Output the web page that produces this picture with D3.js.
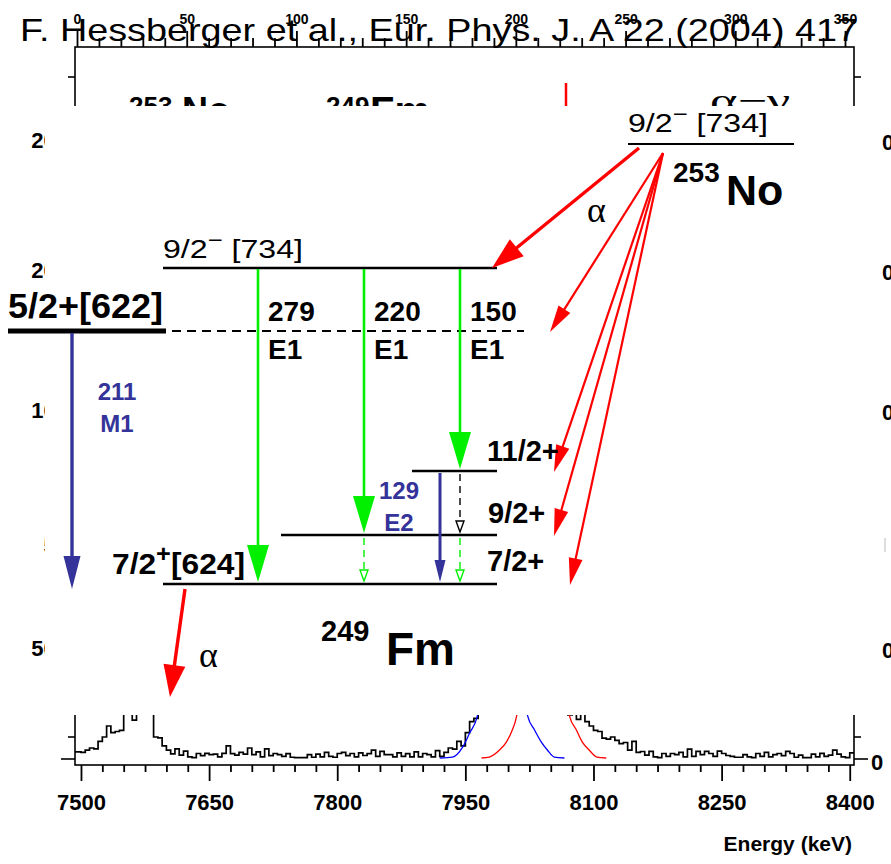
<!DOCTYPE html>
<html>
<head>
<meta charset="utf-8">
<script src="https://cdn.jsdelivr.net/npm/d3@7"></script>
<style>
  body { margin: 0; background: #fff; }
  svg { display: block; }
</style>
</head>
<body>
<svg id="chart" width="891" height="864"></svg>
<script>
// ---------------- data ----------------
const citation = "F. Hessberger et al., Eur. Phys. J. A 22 (2004) 417";

// alpha spectrum (counts per 5 keV bin, first bin starts at 7490 keV)
const binStart = 7490;
const binWidth = 5;
const spectrumCounts = [
  3.2, 3.2, 3.0, 4.0, 5.0, 4.6, 8.0, 10.0, 15.0, 12.0,
  12.5, 13.0, 26, 32, 17.7, 38, 30, 45, 24, 10.0,
  9.6, 6.0, 4.0, 2.3, 4.6, 1.8, 3.6, 1.0, 0.6, 2.5,
  1.5, 2.6, 2.0, 2.2, 1.0, 2.6, 6.0, 2.4, 1.8, 3.0,
  2.2, 5.0, 2.0, 3.2, 1.0, 4.6, 1.5, 2.5, 2.0, 1.2,
  2.4, 0.8, 0.6, 0.6, 0.6, 2.0, 0.8, 2.2, 1.0, 3.0,
  1.2, 0.8, 2.5, 3.0, 1.5, 2.5, 1.0, 2.8, 1.6, 2.4,
  4.0, 1.2, 3.5, 2.0, 2.0, 1.0, 2.8, 1.2, 2.4, 1.0,
  3.2, 1.0, 2.5, 2.0, 1.0, 3.8, 1.2, 3.0, 5.0, 4.5,
  8.0, 6.0, 12.0, 17.0, 18.5, 30, 60, 120, 220, 300,
  340, 320, 280, 300, 260, 180, 120, 90, 70, 60,
  55, 50, 45, 40, 35, 28, 20, 22, 18, 21,
  17, 15, 13, 12.5, 9.5, 9.0, 10.0, 8.5, 7.0, 7.5,
  4.0, 8.0, 3.0, 3.4, 1.8, 3.5, 1.0, 0.6, 2.5, 1.2,
  2.5, 2.0, 3.0, 1.0, 4.5, 1.2, 3.5, 2.0, 3.5, 2.5,
  1.2, 3.6, 2.5, 1.6, 1.2, 0.8, 0.8, 2.0, 1.0, 0.6,
  2.5, 1.2, 3.0, 1.0, 2.0, 2.5, 1.5, 3.5, 2.5, 0.8,
  1.8, 0.6, 0.6, 2.2, 1.0, 2.6, 1.2, 1.8, 4.0, 2.2,
  1.0, 0.6, 2.8
];

// fitted line shapes [energy keV, counts]
const blueFit = [
  [7920, 0.45], [7935, 0.9], [7947, 5.5], [7955, 11.8], [7964, 19.5],
  [7972, 45], [7993, 160], [8014, 45],
  [8023, 19.5], [8031, 13.2], [8039, 7.7], [8046, 4.1], [8054, 0.9], [8066, 0.45]
];
const redFit = [
  [7969, 0.45], [7978, 0.9], [7990, 4.1], [7998, 7.7], [8004, 12.3], [8010, 19.5],
  [8018, 45], [8041, 160], [8064, 45],
  [8072, 19.5], [8080, 13.2], [8087, 7.7], [8095, 4.1], [8104, 0.9], [8115, 0.45]
];

const energyTicks = [7500, 7650, 7800, 7950, 8100, 8250, 8400];
const channelTicks = [0, 50, 100, 150, 200, 250, 300, 350];
const countTicks = [0, 10, 310];
const sideLabels = ["200", "200", "100", "50", "500"];
const headerLabels = ["253", "No", "249", "Fm", "α−γ"];

// level scheme of 249Fm populated in the alpha decay of 253No (energies in keV)
const levelEnergies = [0, 59, 129, 211, 279];
const parentEnergy = 420; // schematic height of the 253No ground state
const gammaLines = [
  { e: 279, from: 279, type: "E1" },
  { e: 220, from: 279, type: "E1" },
  { e: 150, from: 279, type: "E1" },
  { e: 211, from: 211, type: "M1" },
  { e: 129, from: 129, type: "E2" }
];
const cascadeLines = [
  { from: 129, to: 59 },   // 11/2+ -> 9/2+
  { from: 59, to: 0 },     // 9/2+ -> 7/2+ (below 220)
  { from: 59, to: 0 }      // 9/2+ -> 7/2+ (below 150)
];
const alphaFeeding = [279, 211, 129, 59, 0];

// ---------------- drawing ----------------
const FONT = "'Liberation Sans', Arial, Helvetica, sans-serif";
const SERIF = "'Liberation Serif', 'Times New Roman', serif";
const RED = "#ff0000", GREEN = "#00f000", BLUE = "#333399";

const svg = d3.select("#chart");

const x = d3.scaleLinear().domain([7493, 8405]).range([75, 854]);
const y = d3.scaleLinear().domain([0, 20]).range([759, 715]);
const ch = d3.scaleLinear().domain([0, 350]).range([77, 845]);

const plot = { left: 75, right: 854, top: 47, bottom: 765 };
const panel = { left: 45, right: 878, top: 106, bottom: 715 };

svg.append("defs").append("clipPath").attr("id", "plotClip")
  .append("rect")
  .attr("x", plot.left).attr("y", panel.top)
  .attr("width", plot.right - plot.left).attr("height", plot.bottom - panel.top);

const base = svg.append("g");

// frame
base.append("rect")
  .attr("x", plot.left).attr("y", plot.top)
  .attr("width", plot.right - plot.left).attr("height", plot.bottom - plot.top)
  .attr("fill", "none").attr("stroke", "#000").attr("stroke-width", 1.6);

// bottom energy axis
function styleAxis(g) {
  g.select(".domain").remove();
  g.selectAll(".tick line").attr("stroke", "#000").attr("stroke-width", 1.8);
}
base.append("g")
  .attr("transform", `translate(0,${plot.bottom})`)
  .call(d3.axisBottom(x).tickValues(d3.range(7500, 8401, 25).filter(v => !energyTicks.includes(v)))
    .tickSize(7).tickFormat(""))
  .call(styleAxis);
base.append("g")
  .attr("transform", `translate(0,${plot.bottom})`)
  .call(d3.axisBottom(x).tickValues(energyTicks).tickSize(16).tickPadding(13).tickFormat(d3.format("d")))
  .call(styleAxis)
  .call(g => g.selectAll("text").attr("font-family", FONT).attr("font-size", 22)
    .attr("font-weight", "bold").attr("fill", "#000"));

base.append("text")
  .attr("x", 852).attr("y", 851)
  .attr("text-anchor", "end")
  .attr("font-family", FONT).attr("font-size", 21).attr("font-weight", "bold")
  .text("Energy (keV)");

// top channel axis
base.append("g")
  .attr("transform", `translate(0,${plot.top})`)
  .call(d3.axisTop(ch).tickValues(d3.range(0, 351, 10).filter(v => !channelTicks.includes(v)))
    .tickSize(9).tickFormat(""))
  .call(styleAxis);
base.append("g")
  .attr("transform", `translate(0,${plot.top})`)
  .call(d3.axisTop(ch).tickValues(channelTicks).tickSize(16).tickPadding(7).tickFormat(d3.format("d")))
  .call(styleAxis)
  .call(g => g.selectAll("text").attr("font-family", FONT).attr("font-size", 14)
    .attr("font-weight", "bold").attr("fill", "#000"));

// count axes (left and right)
countTicks.forEach(v => {
  const len = v === 0 ? 14 : 7;
  base.append("line").attr("x1", plot.left - len).attr("x2", plot.left)
    .attr("y1", y(v)).attr("y2", y(v)).attr("stroke", "#000").attr("stroke-width", 1.6);
  base.append("line").attr("x1", plot.right).attr("x2", plot.right + len)
    .attr("y1", y(v)).attr("y2", y(v)).attr("stroke", "#000").attr("stroke-width", 1.6);
});
base.append("text")
  .attr("x", 871).attr("y", 770)
  .attr("font-family", FONT).attr("font-size", 22).attr("font-weight", "bold")
  .text(d3.format("d")(countTicks[0]));

// tick labels of the outer frame, partly covered by the scheme panel
const sideY = d3.scaleLinear().domain([0, 1, 2, 3, 4]).range([148, 278, 418, 553, 656]);
sideLabels.forEach((s, i) => {
  base.append("text").attr("x", 68).attr("y", sideY(i))
    .attr("text-anchor", "end")
    .attr("font-family", FONT).attr("font-size", 22).attr("font-weight", "bold")
    .text(s);
  if (i !== 3) {
    base.append("text").attr("x", 882).attr("y", sideY(i) + 2)
      .attr("font-family", FONT).attr("font-size", 22).attr("font-weight", "bold")
      .text("0");
  }
});
base.append("line").attr("x1", 885).attr("x2", 885).attr("y1", 538).attr("y2", 552)
  .attr("stroke", "#bbb").attr("stroke-width", 1);

// spectrum histogram
const histPts = spectrumCounts.map((c, i) => [binStart + i * binWidth, c]);
histPts.push([binStart + spectrumCounts.length * binWidth, spectrumCounts[spectrumCounts.length - 1]]);
const specG = base.append("g").attr("clip-path", "url(#plotClip)");
specG.append("path")
  .datum(histPts)
  .attr("d", d3.line().x(d => x(d[0])).y(d => y(d[1])).curve(d3.curveStepAfter))
  .attr("fill", "none").attr("stroke", "#000").attr("stroke-width", 1.7);

const fitLine = d3.line().x(d => x(d[0])).y(d => y(d[1])).curve(d3.curveMonotoneX);
specG.append("path").datum(blueFit).attr("d", fitLine)
  .attr("fill", "none").attr("stroke", "#0000ff").attr("stroke-width", 1.3);
specG.append("path").datum(redFit).attr("d", fitLine)
  .attr("fill", "none").attr("stroke", RED).attr("stroke-width", 1.3);

// header inside the spectrum frame
base.append("text").attr("x", 129).attr("y", 115)
  .attr("font-family", FONT).attr("font-size", 26).attr("font-weight", "bold").text(headerLabels[0]);
base.append("text").attr("x", 182).attr("y", 123)
  .attr("font-family", FONT).attr("font-size", 36).attr("font-weight", "bold").text(headerLabels[1]);
base.append("text").attr("x", 326).attr("y", 115)
  .attr("font-family", FONT).attr("font-size", 26).attr("font-weight", "bold").text(headerLabels[2]);
base.append("text").attr("x", 370).attr("y", 125)
  .attr("font-family", FONT).attr("font-size", 40).attr("font-weight", "bold").text(headerLabels[3]);
base.append("line").attr("x1", 566).attr("x2", 566).attr("y1", 83).attr("y2", 110)
  .attr("stroke", RED).attr("stroke-width", 2.5);
base.append("text").attr("x", 710).attr("y", 112)
  .attr("font-family", SERIF).attr("font-size", 34)
  .attr("textLength", 80).attr("lengthAdjust", "spacingAndGlyphs")
  .text(headerLabels[4]);

// citation across the top
base.append("text")
  .attr("x", 20).attr("y", 41)
  .attr("font-family", FONT).attr("font-size", 32)
  .attr("textLength", 838).attr("lengthAdjust", "spacingAndGlyphs")
  .text(citation);

// white panel carrying the level scheme
svg.append("rect")
  .attr("x", panel.left).attr("y", panel.top)
  .attr("width", panel.right - panel.left).attr("height", panel.bottom - panel.top)
  .attr("fill", "#fff");

// ---------------- level scheme ----------------
const ly = d3.scaleLinear()
  .domain([0, 59, 129, 211, 279, parentEnergy])
  .range([584, 535, 471, 331, 268, 144]);

const scheme = svg.append("g");

function arrow(g, x1, y1, x2, y2, o) {
  const dx = x2 - x1, dy = y2 - y1, L = Math.hypot(dx, dy);
  const ux = dx / L, uy = dy / L, nx = -uy, ny = ux;
  const bx = x2 - ux * o.headLen, by = y2 - uy * o.headLen;
  g.append("line")
    .attr("x1", x1).attr("y1", y1)
    .attr("x2", o.open ? x2 - ux * 2 : bx + ux * 2).attr("y2", o.open ? y2 - uy * 2 : by + uy * 2)
    .attr("stroke", o.color).attr("stroke-width", o.width)
    .attr("stroke-dasharray", o.dash || null);
  const hw = o.headW / 2;
  g.append("path")
    .attr("d", `M${x2},${y2}L${bx + nx * hw},${by + ny * hw}L${bx - nx * hw},${by - ny * hw}Z`)
    .attr("fill", o.open ? "#fff" : o.color)
    .attr("stroke", o.open ? o.color : "none")
    .attr("stroke-width", o.open ? 1.4 : 0);
}

function label(g, x0, y0, parts, o) {
  const t = g.append("text").attr("x", x0).attr("y", y0)
    .attr("font-family", o.family || FONT).attr("font-size", o.size)
    .attr("font-weight", o.weight || "normal").attr("fill", o.color || "#000");
  if (o.anchor) t.attr("text-anchor", o.anchor);
  if (o.length) t.attr("textLength", o.length).attr("lengthAdjust", "spacingAndGlyphs");
  let shift = 0;
  parts.forEach(p => {
    const s = t.append("tspan").text(p.t);
    const target = p.sup ? -o.size * 0.42 : 0;
    s.attr("dy", target - shift);
    shift = target;
    if (p.sup) s.attr("font-size", o.size * 0.8);
  });
  return t;
}

// level lines
const levelSpan = {
  0: [163, 497],
  59: [281, 497],
  129: [412, 497],
  279: [163, 497]
};
levelEnergies.filter(e => levelSpan[e]).forEach(e => {
  scheme.append("line")
    .attr("x1", levelSpan[e][0]).attr("x2", levelSpan[e][1])
    .attr("y1", ly(e)).attr("y2", ly(e))
    .attr("stroke", "#000").attr("stroke-width", 2.6);
});
// 5/2+[622] band head and its dashed continuation
scheme.append("line").attr("x1", 8).attr("x2", 166).attr("y1", ly(211)).attr("y2", ly(211))
  .attr("stroke", "#000").attr("stroke-width", 5);
scheme.append("line").attr("x1", 172).attr("x2", 524).attr("y1", ly(211)).attr("y2", ly(211))
  .attr("stroke", "#000").attr("stroke-width", 2).attr("stroke-dasharray", "9,6");
// parent level
scheme.append("line").attr("x1", 628).attr("x2", 794)
  .attr("y1", ly(parentEnergy)).attr("y2", ly(parentEnergy))
  .attr("stroke", "#000").attr("stroke-width", 2);

// gamma transitions
const gammaX = { 279: 258, 220: 364, 150: 460, 211: 72, 129: 440 };
gammaLines.forEach(gl => {
  const x0 = gammaX[gl.e];
  const to = gl.from - gl.e;
  if (gl.type === "E1") {
    arrow(scheme, x0, ly(gl.from) + 1, x0, ly(to) - 2,
      { color: GREEN, width: 2.6, headLen: 37, headW: 22 });
    label(scheme, x0 + 10, 321, [{ t: String(gl.e) }], { size: 28, weight: "bold" });
    label(scheme, x0 + 10, 359, [{ t: gl.type }], { size: 28, weight: "bold" });
  } else if (gl.type === "M1") {
    arrow(scheme, x0, ly(gl.from) + 2, x0, ly(to) + 5,
      { color: BLUE, width: 3.4, headLen: 33, headW: 17 });
    label(scheme, 117, 400, [{ t: String(gl.e) }], { size: 24, weight: "bold", color: BLUE, anchor: "middle" });
    label(scheme, 117, 432, [{ t: gl.type }], { size: 24, weight: "bold", color: BLUE, anchor: "middle" });
  } else {
    arrow(scheme, x0, ly(gl.from) + 2, x0, ly(to) - 2,
      { color: BLUE, width: 3, headLen: 22, headW: 11 });
    label(scheme, 399, 499, [{ t: String(gl.e) }], { size: 24, weight: "bold", color: BLUE, anchor: "middle" });
    label(scheme, 399, 531, [{ t: gl.type }], { size: 24, weight: "bold", color: BLUE, anchor: "middle" });
  }
});

// unobserved cascade transitions
const cascadeX = [460, 364, 460];
const cascadeColor = ["#000", GREEN, GREEN];
cascadeLines.forEach((c, i) => {
  arrow(scheme, cascadeX[i], ly(c.from) + 3, cascadeX[i], ly(c.to) - 3,
    { color: cascadeColor[i], width: 1.4, headLen: 11, headW: 8, open: true, dash: "7,5" });
});

// alpha branches from 253No
const alphaTip = { 279: [492, 268], 211: [550, 330], 129: [554, 472], 59: [554, 537], 0: [570, 585] };
alphaFeeding.forEach((e, i) => {
  const [tx] = alphaTip[e];
  if (i === 0) {
    arrow(scheme, 639, 148, tx, ly(e), { color: RED, width: 3.4, headLen: 32, headW: 22 });
  } else {
    arrow(scheme, 663, 153, tx, ly(e) + 1, { color: RED, width: 2.2, headLen: 27, headW: 14 });
  }
});
// alpha decay of 249Fm
arrow(scheme, 185, 589, 170, 697, { color: RED, width: 3.4, headLen: 32, headW: 22 });

// level labels
label(scheme, 628, 132, [{ t: "9/2" }, { t: "−", sup: true }, { t: " [734]" }], { size: 26, length: 140 });
label(scheme, 163, 258, [{ t: "9/2" }, { t: "−", sup: true }, { t: " [734]" }], { size: 26, length: 140 });
label(scheme, 8, 318, [{ t: "5/2+[622]" }], { size: 35, weight: "bold", length: 155 });
label(scheme, 487, 461, [{ t: "11/2+" }], { size: 29, weight: "bold" });
label(scheme, 488, 523, [{ t: "9/2+" }], { size: 29, weight: "bold" });
label(scheme, 487, 571, [{ t: "7/2+" }], { size: 29, weight: "bold" });
label(scheme, 112, 574, [{ t: "7/2" }, { t: "+", sup: true }, { t: "[624]" }], { size: 29, weight: "bold", length: 133 });

// nuclei and decay-mode labels
label(scheme, 673, 182, [{ t: "253" }], { size: 28, weight: "bold" });
label(scheme, 726, 205, [{ t: "No" }], { size: 43, weight: "bold" });
label(scheme, 321, 641, [{ t: "249" }], { size: 29, weight: "bold" });
label(scheme, 386, 665, [{ t: "Fm" }], { size: 46, weight: "bold" });
label(scheme, 587, 222, [{ t: "α" }], { size: 36, family: SERIF });
label(scheme, 199, 667, [{ t: "α" }], { size: 36, family: SERIF });
</script>
</body>
</html>
